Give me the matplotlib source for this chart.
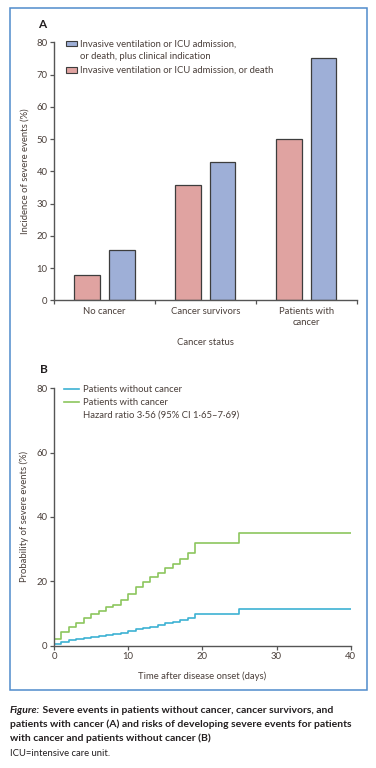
import matplotlib
matplotlib.use("Agg")
import matplotlib.pyplot as plt
from matplotlib.patches import Rectangle
from matplotlib.lines import Line2D

plt.rcParams['font.family'] = ['Lato', 'DejaVu Sans']

# ---------------- data ----------------
categories = ["No cancer", "Cancer survivors", "Patients with\ncancer"]
death_only = [8.0, 35.6, 50.0]          # Invasive ventilation or ICU admission, or death
with_indication = [15.6, 43.0, 75.2]    # ... plus clinical indication
label_blue = ["Invasive ventilation or ICU admission,", "or death, plus clinical indication"]
label_pink = "Invasive ventilation or ICU admission, or death"

days = [0, 0, 1, 2, 3, 4, 5, 6, 7, 8, 9, 10, 11, 12, 13, 14, 15, 16, 17, 18, 19, 25, 40]
with_cancer = [0, 2.2, 4.3, 5.8, 7.1, 8.6, 9.9, 10.9, 12.1, 12.8, 14.2, 16.0, 18.3, 19.8,
               21.4, 22.6, 24.3, 25.4, 26.8, 28.9, 31.8, 34.9, 34.9]
without_cancer = [0, 0.5, 1.2, 1.65, 2.1, 2.4, 2.8, 3.1, 3.4, 3.7, 4.0, 4.5, 5.1, 5.5,
                  5.9, 6.4, 7.0, 7.4, 8.0, 8.6, 10.0, 11.3, 11.3]
hazard_text = "Hazard ratio 3\u00b756 (95% CI 1\u00b765\u20137\u00b769)"

# ---------------- style ----------------
W, H = 376, 768
PINK = "#e0a3a1"
BLUE = "#9eafd7"
EDGE = "#3d3d3d"
GREEN = "#8cc65e"
CYAN = "#3db2d3"
TXT = "#4a3f3a"
SPINE = "#555555"
FS = 6.8

fig = plt.figure(figsize=(W / 100, H / 100), dpi=100)


def fx(px):
    return px / W


def fy(py):
    return 1 - py / H


def style_axes(ax):
    for s in ("top", "right"):
        ax.spines[s].set_visible(False)
    for s in ("left", "bottom"):
        ax.spines[s].set_color(SPINE)
        ax.spines[s].set_linewidth(1.0)
    ax.tick_params(axis="both", which="major", direction="out", length=3.2, width=0.9,
                   color=SPINE, labelsize=FS, labelcolor=TXT, pad=1.5)
    ax.patch.set_alpha(0)


# ---------------- panel A ----------------
axA = fig.add_axes([fx(54), fy(300.3), fx(356.7) - fx(54), fy(42.3) - fy(300.3)])
style_axes(axA)
x = list(range(len(categories)))
off, bw = 0.172, 0.252
axA.bar([i - off for i in x], death_only, bw, color=PINK, edgecolor=EDGE, linewidth=0.9)
axA.bar([i + off for i in x], with_indication, bw, color=BLUE, edgecolor=EDGE, linewidth=0.9)
axA.set_xlim(-0.5, 2.5)
axA.set_ylim(0, 80)
axA.set_yticks(range(0, 81, 10))
axA.set_xticks([-0.5, 0.5, 1.5, 2.5])
axA.set_xticklabels([])
axA.set_xticks(x, minor=True)
axA.set_xticklabels(categories, minor=True, fontsize=FS, color=TXT, linespacing=1.3)
axA.tick_params(axis="x", which="minor", length=0, pad=5)
axA.set_ylabel("Incidence of severe events (%)", fontsize=FS, color=TXT, labelpad=5)
axA.set_xlabel("Cancer status", fontsize=FS, color=TXT, labelpad=8)

# legend A (manual)
fig.patches.append(Rectangle((fx(65.7), fy(46.3)), fx(77.3) - fx(65.7), fy(40.7) - fy(46.3),
                             transform=fig.transFigure, facecolor=BLUE, edgecolor=EDGE, lw=0.8))
fig.text(fx(80), fy(43.7), label_blue[0], fontsize=FS, color=TXT, va="center", ha="left")
fig.text(fx(80), fy(56.7), label_blue[1], fontsize=FS, color=TXT, va="center", ha="left")
fig.patches.append(Rectangle((fx(65.7), fy(72.7)), fx(77.3) - fx(65.7), fy(67.0) - fy(72.7),
                             transform=fig.transFigure, facecolor=PINK, edgecolor=EDGE, lw=0.8))
fig.text(fx(80), fy(70), label_pink, fontsize=FS, color=TXT, va="center", ha="left")
fig.text(fx(41.7), fy(24), "A", fontsize=8.5, fontweight="bold", color="#231f20",
         ha="center", va="center")

# ---------------- panel B ----------------
axB = fig.add_axes([fx(54), fy(645.7), fx(350.7) - fx(54), fy(388.3) - fy(645.7)])
style_axes(axB)
axB.step(days, without_cancer, where="post", color=CYAN, lw=1.2)
axB.step(days, with_cancer, where="post", color=GREEN, lw=1.2)
axB.set_xlim(0, 40)
axB.set_ylim(0, 80)
axB.set_yticks([0, 20, 40, 60, 80])
axB.set_xticks([0, 10, 20, 30, 40])
axB.set_ylabel("Probability of severe events (%)", fontsize=FS, color=TXT, labelpad=5)
axB.set_xlabel("Time after disease onset (days)", fontsize=FS, color=TXT, labelpad=7.5)

fig.lines.append(Line2D([fx(64.3), fx(79.3)], [fy(389), fy(389)], transform=fig.transFigure,
                        color=CYAN, lw=1.2))
fig.lines.append(Line2D([fx(64.3), fx(79.3)], [fy(402.3), fy(402.3)], transform=fig.transFigure,
                        color=GREEN, lw=1.2))
fig.text(fx(82.7), fy(389), "Patients without cancer", fontsize=FS, color=TXT, va="center")
fig.text(fx(82.7), fy(402.3), "Patients with cancer", fontsize=FS, color=TXT, va="center")
fig.text(fx(82.7), fy(415.5), hazard_text, fontsize=FS, color=TXT, va="center")
fig.text(fx(44.3), fy(370), "B", fontsize=8.5, fontweight="bold", color="#231f20",
         ha="center", va="center")

# ---------------- frame ----------------
fig.patches.append(Rectangle((fx(9.5), fy(690)), fx(366.5) - fx(9.5), fy(7.5) - fy(690),
                             transform=fig.transFigure, facecolor="none",
                             edgecolor="#4f8bcc", lw=1.1))

# ---------------- caption ----------------
CAP = "#231f20"
CFS = 7.5
t1 = fig.text(fx(10), fy(710.7), "Figure:", fontsize=CFS, fontweight="bold", fontstyle="italic",
              color=CAP, va="center", ha="left")
plt.annotate(" Severe events in patients without cancer, cancer survivors, and",
             xy=(1, 0), xycoords=t1, va="bottom", ha="left",
             fontsize=CFS, fontweight="bold", color=CAP)
fig.text(fx(10), fy(724), "patients with cancer (A) and risks of developing severe events for patients",
         fontsize=CFS, fontweight="bold", color=CAP, va="center", ha="left")
fig.text(fx(10), fy(738), "with cancer and patients without cancer (B)",
         fontsize=CFS, fontweight="bold", color=CAP, va="center", ha="left")
fig.text(fx(10), fy(754), "ICU=intensive care unit.", fontsize=6.8, color=CAP, va="center", ha="left")

fig.savefig("out.png", dpi=100)
